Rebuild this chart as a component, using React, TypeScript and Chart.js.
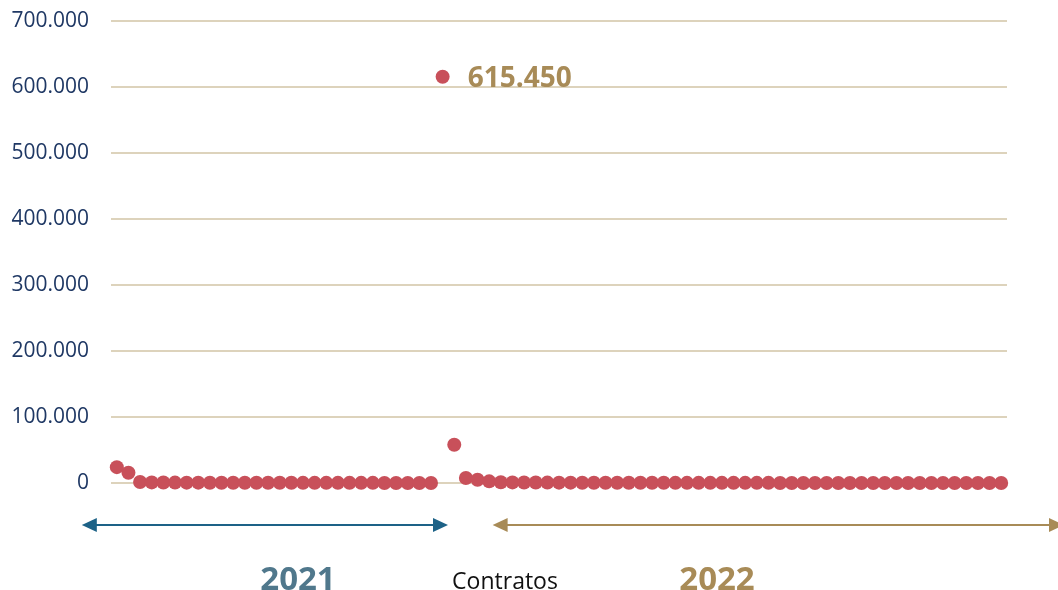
import React, { useEffect, useRef } from "react";
import { Chart, registerables } from "chart.js";

Chart.register(...registerables);

// Contratos 2021 (28 registros)
const contratos2021: number[] = [
  24000, 15500, 1500, 900, 700, 600, 500, 500, 400, 400,
  400, 300, 300, 300, 300, 300, 200, 200, 200, 200,
  200, 200, 200, 100, 100, 100, 100, 100,
];

// Contratos 2022 (49 registros)
const contratos2022: number[] = [
  615450, 58000, 7500, 5000, 2500, 1200, 900, 800, 700, 600,
  500, 500, 400, 400, 400, 300, 300, 300, 300, 300,
  200, 200, 200, 200, 200, 200, 200, 200, 200, 100,
  100, 100, 100, 100, 100, 100, 100, 100, 100, 100,
  100, 100, 100, 100, 100, 100, 100, 100, 100,
];

const yTicks: number[] = [0, 100000, 200000, 300000, 400000, 500000, 600000, 700000];
const yearLabels: string[] = ["2021", "2022"];
const axisTitle = "Contratos";

const POINT_COLOR = "#C8505A";
const GRID_COLOR = "#DDD3BC";
const TICK_COLOR = "#1F3864";
const GOLD = "#A88B57";
const BLUE_TEXT = "#50788C";
const BLUE_ARROW = "#1D6287";
const FONT = "'Open Sans', 'DejaVu Sans', sans-serif";

const fmt = (v: number) =>
  String(Math.round(v)).replace(/\B(?=(\d{3})+(?!\d))/g, ".");

function drawArrow(ctx: CanvasRenderingContext2D, x1: number, x2: number, y: number, color: string) {
  const head = 15;
  const half = 7;
  ctx.save();
  ctx.strokeStyle = color;
  ctx.fillStyle = color;
  ctx.lineWidth = 2;
  ctx.beginPath();
  ctx.moveTo(x1 + head - 2, y);
  ctx.lineTo(x2 - head + 2, y);
  ctx.stroke();
  ctx.beginPath();
  ctx.moveTo(x1, y);
  ctx.lineTo(x1 + head, y - half);
  ctx.lineTo(x1 + head, y + half);
  ctx.closePath();
  ctx.fill();
  ctx.beginPath();
  ctx.moveTo(x2, y);
  ctx.lineTo(x2 - head, y - half);
  ctx.lineTo(x2 - head, y + half);
  ctx.closePath();
  ctx.fill();
  ctx.restore();
}

export default function App() {
  const ref = useRef<HTMLCanvasElement | null>(null);

  useEffect(() => {
    if (!ref.current) return;
    const values = [...contratos2021, ...contratos2022];
    const n2021 = contratos2021.length;
    const categories = values.map((_, i) =>
      i < n2021 ? `${yearLabels[0]}-${i + 1}` : `${yearLabels[1]}-${i - n2021 + 1}`
    );

    const decor = {
      id: "decor",
      afterDatasetsDraw(chart: any) {
        const ctx: CanvasRenderingContext2D = chart.ctx;
        const meta = chart.getDatasetMeta(0);
        let maxI = 0;
        values.forEach((v, i) => {
          if (v > values[maxI]) maxI = i;
        });
        const pt = meta.data[maxI];
        ctx.save();
        ctx.font = `bold 28px ${FONT}`;
        ctx.fillStyle = GOLD;
        ctx.textBaseline = "middle";
        ctx.textAlign = "left";
        ctx.fillText(fmt(values[maxI]), pt.x + 25, pt.y + 2);

        const area = chart.chartArea;
        const yArrow = area.bottom + 42;
        const firstX = meta.data[0].x;
        const last2021X = meta.data[n2021 - 1].x;
        const first2022X = meta.data[n2021].x;
        drawArrow(ctx, firstX - 35, last2021X + 17, yArrow, BLUE_ARROW);
        drawArrow(ctx, first2022X + 50, chart.width + 6, yArrow, GOLD);

        const yText = chart.height;
        ctx.textBaseline = "alphabetic";
        ctx.textAlign = "center";
        ctx.font = `bold 33px ${FONT}`;
        ctx.fillStyle = BLUE_TEXT;
        ctx.fillText(yearLabels[0], 298, yText);
        ctx.fillStyle = GOLD;
        ctx.fillText(yearLabels[1], 717, yText);
        ctx.font = `23px ${FONT}`;
        ctx.fillStyle = "#111111";
        ctx.fillText(axisTitle, 505, yText - 1);
        ctx.restore();
      },
    };

    const chart = new Chart(ref.current, {
      type: "line",
      data: {
        labels: categories,
        datasets: [
          {
            data: values,
            showLine: false,
            pointRadius: 7,
            pointHoverRadius: 7,
            pointBackgroundColor: POINT_COLOR,
            pointBorderColor: POINT_COLOR,
            pointBorderWidth: 0,
            borderColor: POINT_COLOR,
            backgroundColor: POINT_COLOR,
            clip: false as any,
          },
        ],
      },
      options: {
        animation: false,
        responsive: false,
        maintainAspectRatio: false,
        events: [],
        layout: { padding: { left: 0, right: 51, top: 21, bottom: 107 } },
        plugins: {
          legend: { display: false },
          tooltip: { enabled: false },
        },
        scales: {
          x: {
            type: "category",
            display: false,
            offset: true,
          },
          y: {
            min: 0,
            max: 700000,
            afterBuildTicks: (scale: any) => {
              scale.ticks = yTicks.map((v) => ({ value: v }));
            },
            afterFit: (scale: any) => {
              scale.width = 111;
              scale.paddingTop = 0;
              scale.paddingBottom = 0;
            },
            border: { display: false },
            grid: {
              color: GRID_COLOR,
              lineWidth: 2,
              drawTicks: false,
            },
            ticks: {
              padding: 22,
              color: TICK_COLOR,
              font: { family: FONT, size: 21 },
              callback: (v: any) => fmt(Number(v)),
            },
          },
        },
      },
      plugins: [decor],
    });
    return () => chart.destroy();
  }, []);

  return (
    <div style={{ position: "absolute", left: 0, top: 0, width: 1058, height: 590, background: "#fff" }}>
      <canvas ref={ref} width={1058} height={590} style={{ display: "block" }} />
    </div>
  );
}
